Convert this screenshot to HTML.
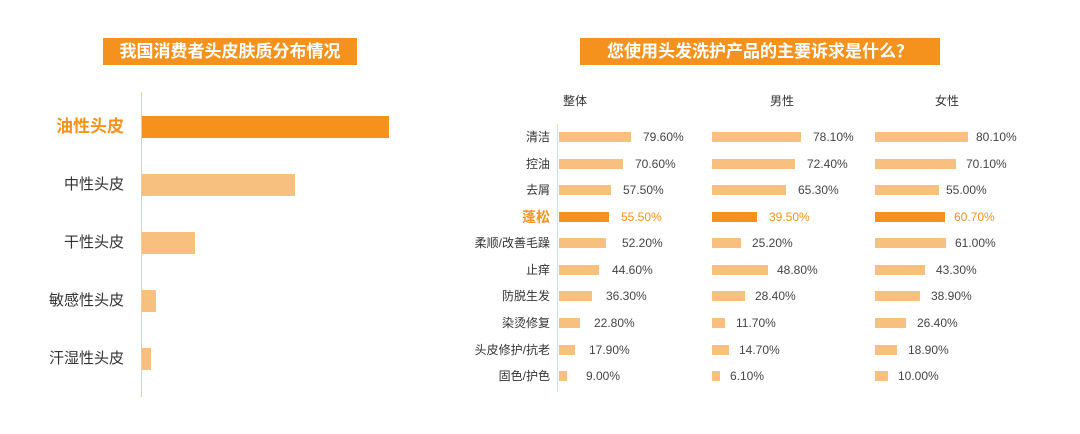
<!DOCTYPE html>
<html><head><meta charset="utf-8"><style>
*{margin:0;padding:0;box-sizing:border-box}
body{width:1080px;height:434px;background:#fff;position:relative;overflow:hidden;font-family:"Liberation Sans","Noto Sans CJK SC",sans-serif;color:#333}
.a{position:absolute}
.t{background:#F5921E;color:#fff;font-weight:bold;font-size:17px;line-height:27px;text-align:center}
.lb{position:absolute;font-size:15px;right:956px;text-align:right;white-space:nowrap;line-height:22px}
.bar{position:absolute;background:#F8C07E}
.dk{background:#F5921E}
.r{position:absolute;left:0;width:1080px;height:16px}
.r .n{position:absolute;right:530px;font-size:12px;line-height:16px;white-space:nowrap;color:#333}
.r .b{position:absolute;top:3px;height:10px;background:#F8C07E}
.r .v{position:absolute;font-size:12px;line-height:16px;color:#444}
.r.h .n{color:#F5921E;font-weight:bold;font-size:14px}
.r.h .b{background:#F5921E}
.r.h .v{color:#F5921E}
.hd{position:absolute;top:92px;font-size:12px;width:60px;text-align:center;color:#333}
</style></head><body>
<div class="a t" style="left:103px;top:38px;width:254px">我国消费者头皮肤质分布情况</div>
<div class="a" style="left:141px;top:92px;width:1px;height:305px;background:#F5C9A0"></div>
<div class="lb" style="top:116px;color:#F5921E;font-weight:bold;font-size:17px">油性头皮</div>
<div class="bar dk" style="left:142px;top:116px;width:247px;height:22px"></div>
<div class="lb" style="top:174px">中性头皮</div>
<div class="bar" style="left:142px;top:174px;width:153px;height:22px"></div>
<div class="lb" style="top:232px">干性头皮</div>
<div class="bar" style="left:142px;top:232px;width:53px;height:22px"></div>
<div class="lb" style="top:290px">敏感性头皮</div>
<div class="bar" style="left:142px;top:290px;width:14px;height:22px"></div>
<div class="lb" style="top:348px">汗湿性头皮</div>
<div class="bar" style="left:142px;top:348px;width:9px;height:22px"></div>

<div class="a t" style="left:580px;top:38px;width:360px">您使用头发洗护产品的主要诉求是什么？</div>
<div class="hd" style="left:545px">整体</div>
<div class="hd" style="left:752px">男性</div>
<div class="hd" style="left:917px">女性</div>
<div class="a" style="left:557px;top:124px;width:1px;height:268px;background:#F5D6B5"></div>

<div class="r" style="top:129px"><span class="n">清洁</span><div class="b" style="left:559px;width:72px"></div><span class="v" style="left:643px">79.60%</span><div class="b" style="left:712px;width:89px"></div><span class="v" style="left:813px">78.10%</span><div class="b" style="left:875px;width:93px"></div><span class="v" style="left:976px">80.10%</span></div>
<div class="r" style="top:156px"><span class="n">控油</span><div class="b" style="left:559px;width:64px"></div><span class="v" style="left:635px">70.60%</span><div class="b" style="left:712px;width:83px"></div><span class="v" style="left:807px">72.40%</span><div class="b" style="left:875px;width:81px"></div><span class="v" style="left:966px">70.10%</span></div>
<div class="r" style="top:182px"><span class="n">去屑</span><div class="b" style="left:559px;width:52px"></div><span class="v" style="left:623px">57.50%</span><div class="b" style="left:712px;width:74px"></div><span class="v" style="left:798px">65.30%</span><div class="b" style="left:875px;width:64px"></div><span class="v" style="left:946px">55.00%</span></div>
<div class="r h" style="top:209px"><span class="n">蓬松</span><div class="b" style="left:559px;width:50px"></div><span class="v" style="left:621px">55.50%</span><div class="b" style="left:712px;width:45px"></div><span class="v" style="left:769px">39.50%</span><div class="b" style="left:875px;width:70px"></div><span class="v" style="left:954px">60.70%</span></div>
<div class="r" style="top:235px"><span class="n">柔顺/改善毛躁</span><div class="b" style="left:559px;width:47px"></div><span class="v" style="left:622px">52.20%</span><div class="b" style="left:712px;width:29px"></div><span class="v" style="left:752px">25.20%</span><div class="b" style="left:875px;width:71px"></div><span class="v" style="left:955px">61.00%</span></div>
<div class="r" style="top:262px"><span class="n">止痒</span><div class="b" style="left:559px;width:40px"></div><span class="v" style="left:612px">44.60%</span><div class="b" style="left:712px;width:56px"></div><span class="v" style="left:777px">48.80%</span><div class="b" style="left:875px;width:50px"></div><span class="v" style="left:936px">43.30%</span></div>
<div class="r" style="top:288px"><span class="n">防脱生发</span><div class="b" style="left:559px;width:33px"></div><span class="v" style="left:606px">36.30%</span><div class="b" style="left:712px;width:33px"></div><span class="v" style="left:755px">28.40%</span><div class="b" style="left:875px;width:45px"></div><span class="v" style="left:931px">38.90%</span></div>
<div class="r" style="top:315px"><span class="n">染烫修复</span><div class="b" style="left:559px;width:21px"></div><span class="v" style="left:594px">22.80%</span><div class="b" style="left:712px;width:13px"></div><span class="v" style="left:736px">11.70%</span><div class="b" style="left:875px;width:31px"></div><span class="v" style="left:917px">26.40%</span></div>
<div class="r" style="top:342px"><span class="n">头皮修护/抗老</span><div class="b" style="left:559px;width:16px"></div><span class="v" style="left:589px">17.90%</span><div class="b" style="left:712px;width:17px"></div><span class="v" style="left:739px">14.70%</span><div class="b" style="left:875px;width:22px"></div><span class="v" style="left:908px">18.90%</span></div>
<div class="r" style="top:368px"><span class="n">固色/护色</span><div class="b" style="left:559px;width:8px"></div><span class="v" style="left:586px">9.00%</span><div class="b" style="left:712px;width:8px"></div><span class="v" style="left:730px">6.10%</span><div class="b" style="left:875px;width:13px"></div><span class="v" style="left:898px">10.00%</span></div>
</body></html>
